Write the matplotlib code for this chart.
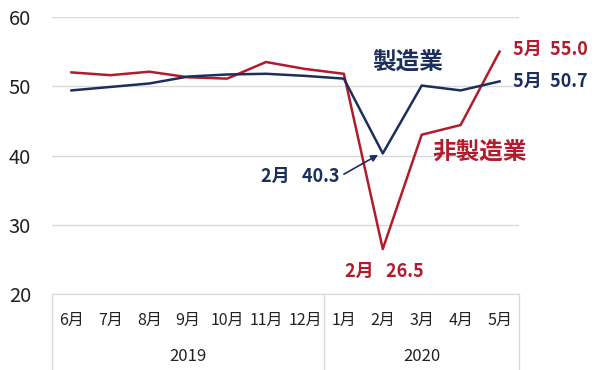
import matplotlib.pyplot as plt
import numpy as np

plt.rcParams['font.family'] = ['Noto Sans CJK JP', 'DejaVu Sans']

# Caixin PMI, 2019/6 - 2020/5
months = ['6月', '7月', '8月', '9月', '10月', '11月', '12月',
          '1月', '2月', '3月', '4月', '5月']
years = ['2019', '2020']
year_counts = [7, 5]
manufacturing = [49.4, 49.9, 50.4, 51.4, 51.7, 51.8, 51.5, 51.1, 40.3, 50.1, 49.4, 50.7]
non_manufacturing = [52.0, 51.6, 52.1, 51.3, 51.1, 53.5, 52.5, 51.8, 26.5, 43.0, 44.4, 55.0]

navy = '#1c2f5c'
red = '#b31b2c'
grid = '#d9d9d9'

fig = plt.figure(figsize=(6, 3.7), dpi=100)
ax = fig.add_axes([52 / 600, 1 - 294 / 370, 467 / 600, 277 / 370])

x = np.arange(len(months))
ax.plot(x, non_manufacturing, color=red, lw=1.8, zorder=3)
ax.plot(x, manufacturing, color=navy, lw=1.8, zorder=4)

ax.set_xlim(-0.5, len(months) - 0.5)
ax.set_ylim(20, 60)
ax.set_yticks([20, 30, 40, 50, 60])
ax.yaxis.grid(True, color=grid, lw=1)
ax.set_axisbelow(True)
ax.tick_params(axis='y', length=0, labelsize=14.5, pad=15, colors='#222222')
ax.set_xticks([])
for s in ax.spines.values():
    s.set_visible(False)
ax.spines['bottom'].set_visible(True)
ax.spines['bottom'].set_color(grid)

# category axis: months and years
for i, m in enumerate(months):
    ax.text(i, -0.094, m, transform=ax.get_xaxis_transform(), ha='center', va='center',
            fontsize=11.5, color='#222222')
start = 0
bounds = [-0.5]
for yr, n in zip(years, year_counts):
    ax.text(start + (n - 1) / 2, -0.224, yr, transform=ax.get_xaxis_transform(),
            ha='center', va='center', fontsize=12, color='#222222')
    start += n
    bounds.append(start - 0.5)
for b in bounds:
    ax.plot([b, b], [0, -0.28], transform=ax.get_xaxis_transform(), color=grid,
            lw=1, clip_on=False)

# annotations
last = len(months) - 1
feb = months.index('2月', 7)
ax.text(8.64, 53.5, '製造業', color=navy, fontsize=17, fontweight='bold', ha='center', va='center')
ax.text(10.5, 40.5, '非製造業', color=red, fontsize=17, fontweight='bold', ha='center', va='center')
ax.text(last + 0.35, 55.3, f'5月  {non_manufacturing[-1]:.1f}',
        color=red, fontsize=13, fontweight='bold', ha='left', va='center')
ax.text(last + 0.35, 50.7, f'5月  {manufacturing[-1]:.1f}',
        color=navy, fontsize=13, fontweight='bold', ha='left', va='center')
ax.text(8.05, 23.3, f'2月   {non_manufacturing[feb]:.1f}',
        color=red, fontsize=13, fontweight='bold', ha='center', va='center')
ax.text(6.89, 37.0, f'2月   {manufacturing[feb]:.1f}', color=navy, fontsize=13,
        fontweight='bold', ha='right', va='center')
ax.annotate('', xy=(feb - 0.12, manufacturing[feb] - 0.2), xytext=(7.0, 37.3),
            arrowprops=dict(arrowstyle='-|>', color=navy, lw=1.2, mutation_scale=10,
                            shrinkA=0, shrinkB=0))

fig.savefig('out.png', dpi=100, facecolor='white')
